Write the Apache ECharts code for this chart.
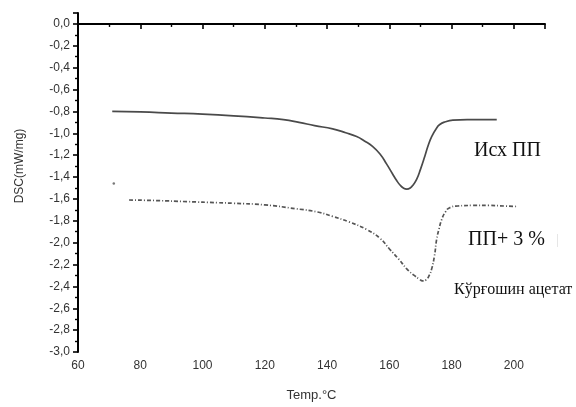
<!DOCTYPE html>
<html>
<head>
<meta charset="utf-8">
<script src="https://cdn.jsdelivr.net/npm/echarts@6/dist/echarts.min.js"></script>
<style>
html,body{margin:0;padding:0;background:#fff;}
#chart{width:576px;height:407px;}
</style>
</head>
<body>
<div id="chart"></div>
<script>
// Pure PP (solid curve)
const pureTemp = [71, 80, 90, 100, 110, 120, 126, 131, 136, 141.8, 146, 149.5, 152, 154.6, 157, 159.1, 161, 162.3, 163.5, 164.5, 165.6, 166.7, 167.7, 168.8, 170, 171.4, 172.5, 173.6, 175, 176.2, 178, 180.4, 185, 190, 194.5];
const pureDsc  = [-0.80, -0.805, -0.815, -0.825, -0.84, -0.86, -0.875, -0.90, -0.93, -0.96, -0.995, -1.03, -1.07, -1.12, -1.19, -1.28, -1.37, -1.43, -1.475, -1.50, -1.51, -1.50, -1.47, -1.42, -1.33, -1.21, -1.11, -1.03, -0.96, -0.92, -0.895, -0.88, -0.875, -0.875, -0.875];

// PP + 3% lead acetate (dash-dot curve)
const compTemp = [76.4, 85, 95, 105, 110, 120, 130, 137, 141.8, 147, 152.7, 157, 160.1, 163, 165.6, 168, 169.5, 170.7, 171.8, 172.8, 173.6, 174.5, 175.2, 176, 176.8, 178, 179.4, 182, 186.8, 192, 197, 201];
const compDsc  = [-1.61, -1.615, -1.625, -1.635, -1.64, -1.655, -1.69, -1.72, -1.76, -1.81, -1.88, -1.96, -2.06, -2.15, -2.24, -2.30, -2.33, -2.35, -2.34, -2.30, -2.24, -2.12, -1.97, -1.87, -1.79, -1.72, -1.68, -1.665, -1.66, -1.66, -1.665, -1.67];

// stray dot
const strayTemp = [71.5];
const strayDsc = [-1.46];

const labelPure = 'Исх ПП';
const labelComp1 = 'ПП+ 3 %';
const labelComp2 = 'Кўрғошин ацетат';

const zip = (a, b) => a.map((v, i) => [v, b[i]]);

const chart = echarts.init(document.getElementById('chart'));
chart.setOption({
  backgroundColor: '#fff',
  animation: false,
  grid: { left: 78, right: 31, top: 13, bottom: 54 },
  xAxis: {
    type: 'value', min: 60, max: 210, interval: 20,
    name: 'Temp.°C', nameLocation: 'middle', nameGap: 37,
    nameTextStyle: { fontFamily: 'Liberation Sans, Arial', fontSize: 13, color: '#333' },
    axisLine: { show: true, lineStyle: { color: '#000', width: 2 } },
    axisTick: { show: true, inside: false, length: 5, lineStyle: { color: '#000', width: 1.6 } },
    minorTick: { show: true, splitNumber: 2, length: 3, lineStyle: { color: '#000', width: 1.4 } },
    splitLine: { show: false },
    axisLabel: {
      margin: 8, fontFamily: 'Liberation Sans, Arial', fontSize: 12, color: '#333',
      formatter: v => (v > 205 ? '' : String(v))
    }
  },
  yAxis: {
    type: 'value', min: -3, max: 0.1, interval: 0.2,
    axisLine: { show: true, lineStyle: { color: '#000', width: 2 } },
    axisTick: { show: true, inside: false, length: 5, lineStyle: { color: '#000', width: 1.6 } },
    minorTick: { show: true, splitNumber: 2, length: 3, lineStyle: { color: '#000', width: 1.4 } },
    splitLine: { show: false },
    axisLabel: {
      margin: 8, fontFamily: 'Liberation Sans, Arial', fontSize: 12, color: '#333',
      formatter: v => (v > 0.05 ? '' : (Math.abs(v) < 1e-9 ? '0,0' : v.toFixed(1).replace('.', ',')))
    }
  },
  graphic: [
    { type: 'text', position: [20, 166], rotation: Math.PI / 2,
      style: { text: 'DSC(mW/mg)', font: '12px "Liberation Sans", Arial', fill: '#333', align: 'center', verticalAlign: 'middle' } },
    { type: 'text', position: [474, 151], style: { text: labelPure, font: '20px "Liberation Serif", "Times New Roman", serif', fill: '#111', verticalAlign: 'middle' } },
    { type: 'text', position: [468, 240], style: { text: labelComp1, font: '20px "Liberation Serif", "Times New Roman", serif', fill: '#111', verticalAlign: 'middle' } },
    { type: 'text', position: [556, 240], style: { text: '|', font: '14px "Liberation Serif", serif', fill: '#ddd', verticalAlign: 'middle' } },
    { type: 'text', position: [454, 290], style: { text: labelComp2, font: '16px "Liberation Serif", "Times New Roman", serif', fill: '#111', verticalAlign: 'middle' } }
  ],
  series: [
    {
      type: 'line', data: zip(pureTemp, pureDsc), smooth: 0.5, showSymbol: false,
      lineStyle: { color: '#4a4a4a', width: 1.7 }
    },
    {
      type: 'line', data: zip(compTemp, compDsc), smooth: 0.5, showSymbol: false,
      lineStyle: { color: '#555', width: 1.7, type: [4, 2, 1, 2] }
    },
    {
      type: 'scatter', data: zip(strayTemp, strayDsc), symbolSize: 2.5,
      itemStyle: { color: '#555' }
    }
  ]
});
</script>
</body>
</html>
